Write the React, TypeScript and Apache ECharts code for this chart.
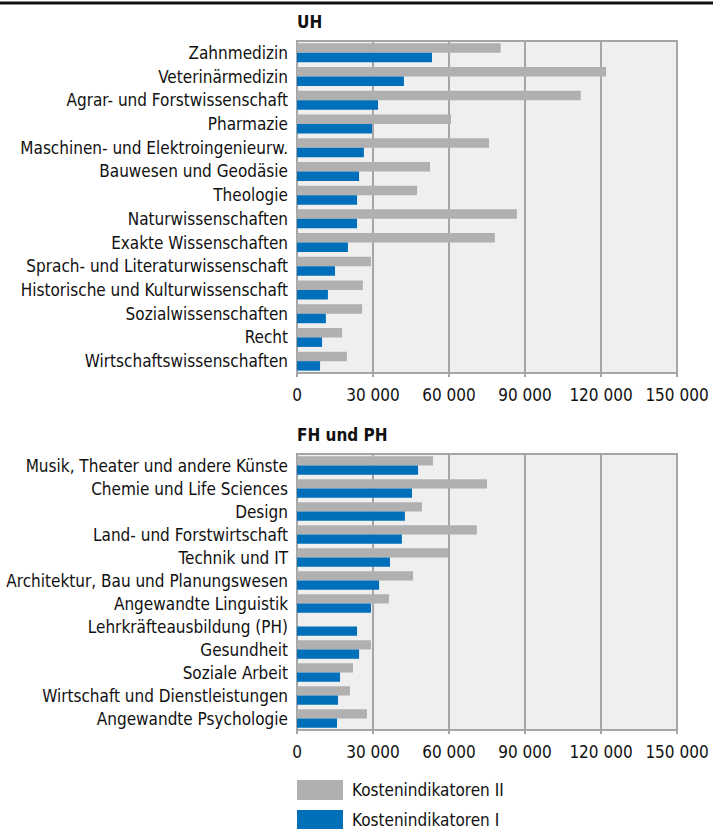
import React, { useEffect, useRef } from "react";
import * as echarts from "echarts";

const uhCategories = [
  "Zahnmedizin",
  "Veterinärmedizin",
  "Agrar- und Forstwissenschaft",
  "Pharmazie",
  "Maschinen- und Elektroingenieurw.",
  "Bauwesen und Geodäsie",
  "Theologie",
  "Naturwissenschaften",
  "Exakte Wissenschaften",
  "Sprach- und Literaturwissenschaft",
  "Historische und Kulturwissenschaft",
  "Sozialwissenschaften",
  "Recht",
  "Wirtschaftswissenschaften",
];
const uhKostenII = [80400, 122000, 112000, 60800, 75800, 52500, 47400, 86800, 78100, 29200, 26000, 25700, 17800, 19700];
const uhKostenI = [53300, 42200, 32000, 29600, 26400, 24500, 23700, 23700, 20100, 15000, 12200, 11400, 9900, 9100];

const fhCategories = [
  "Musik, Theater und andere Künste",
  "Chemie und Life Sciences",
  "Design",
  "Land- und Forstwirtschaft",
  "Technik und IT",
  "Architektur, Bau und Planungswesen",
  "Angewandte Linguistik",
  "Lehrkräfteausbildung (PH)",
  "Gesundheit",
  "Soziale Arbeit",
  "Wirtschaft und Dienstleistungen",
  "Angewandte Psychologie",
];
const fhKostenII = [53700, 75000, 49300, 71000, 59600, 45800, 36300, 0, 29200, 22100, 20900, 27600];
const fhKostenI = [47800, 45400, 42600, 41400, 36700, 32400, 29200, 23700, 24500, 17000, 16200, 15800];

const xTicks = { min: 0, max: 150000, interval: 30000 };
const seriesNames = ["Kostenindikatoren II", "Kostenindikatoren I"];

const FONT = "'DejaVu Sans Condensed', 'Liberation Sans', sans-serif";
const FS = 17;
const GRAY = "#b0b0b1";
const BLUE = "#006fb9";
const LINE = "#a6a6a6";

export default function App() {
  const ref = useRef<HTMLDivElement>(null);
  useEffect(() => {
    if (!ref.current) return;
    const chart = echarts.init(ref.current, undefined, { renderer: "svg" });
    const fmt = (v: number) => (v === 0 ? "0" : String(v).replace(/\B(?=(\d{3})+(?!\d))/g, " "));
    const xAxis = (gi: number) => ({
      type: "value",
      gridIndex: gi,
      min: xTicks.min,
      max: xTicks.max,
      interval: xTicks.interval,
      axisLine: { show: true, lineStyle: { color: LINE, width: 2 } },
      axisTick: { show: true, length: 4, lineStyle: { color: LINE, width: 2 } },
      splitLine: { show: true, lineStyle: { color: LINE, width: 2 } },
      axisLabel: { color: "#111", fontFamily: FONT, fontSize: FS, margin: 13, formatter: fmt },
    });
    const yAxis = (gi: number, cats: string[]) => ({
      type: "category",
      gridIndex: gi,
      data: cats,
      inverse: true,
      axisLine: { show: true, lineStyle: { color: LINE, width: 2 } },
      axisTick: { show: false },
      axisLabel: { color: "#111", fontFamily: FONT, fontSize: FS, margin: 9, interval: 0 },
    });
    const bar = (name: string, gi: number, data: number[], color: string) => ({
      type: "bar",
      name,
      xAxisIndex: gi,
      yAxisIndex: gi,
      data,
      barGap: "0%",
      barCategoryGap: "20%",
      itemStyle: { color },
    });
    const legend = (name: string, top: number) => ({
      data: [name],
      left: 297,
      top,
      itemWidth: 46,
      itemHeight: 20,
      icon: "rect",
      padding: 0,
      textStyle: { color: "#111", fontFamily: FONT, fontSize: FS, padding: [0, 0, 0, 4] },
    });
    chart.setOption({
      animation: false,
      backgroundColor: "#fff",
      grid: [
        { left: 297, width: 380, top: 41, height: 332, show: true, backgroundColor: "#efefef", borderColor: LINE, borderWidth: 2 },
        { left: 297, width: 380, top: 454, height: 276, show: true, backgroundColor: "#efefef", borderColor: LINE, borderWidth: 2 },
      ],
      xAxis: [xAxis(0), xAxis(1)],
      yAxis: [yAxis(0, uhCategories), yAxis(1, fhCategories)],
      legend: [legend(seriesNames[0], 780), legend(seriesNames[1], 810)],
      graphic: [
        { type: "line", shape: { x1: 0, y1: 3, x2: 713, y2: 3 }, style: { stroke: "#111", lineWidth: 3 } },
        { type: "text", left: 297, top: 13, style: { text: "UH", fontFamily: FONT, fontWeight: "bold", fontSize: FS, fill: "#111" } },
        { type: "text", left: 297, top: 426, style: { text: "FH und PH", fontFamily: FONT, fontWeight: "bold", fontSize: FS, fill: "#111" } },
      ],
      series: [
        bar(seriesNames[0], 0, uhKostenII, GRAY),
        bar(seriesNames[1], 0, uhKostenI, BLUE),
        bar(seriesNames[0], 1, fhKostenII, GRAY),
        bar(seriesNames[1], 1, fhKostenI, BLUE),
      ],
    });
    return () => chart.dispose();
  }, []);
  return <div ref={ref} style={{ position: "fixed", left: 0, top: 0, width: 713, height: 829 }} />;
}
